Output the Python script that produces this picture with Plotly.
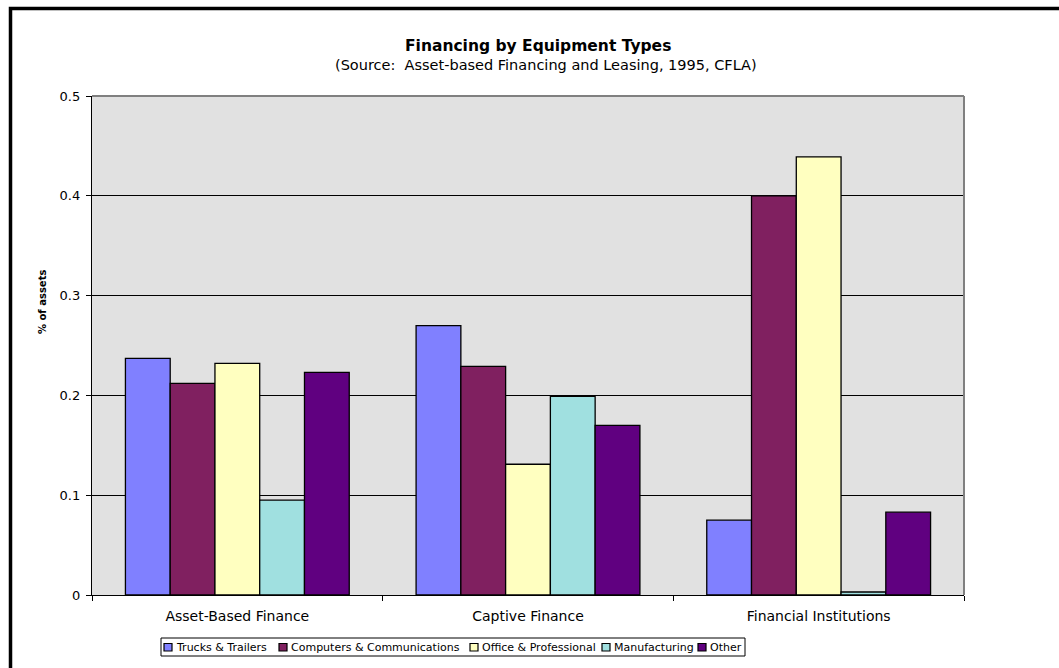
import plotly.graph_objects as go

# Data: share of assets by equipment type for each lender group
categories = ["Asset-Based Finance", "Captive Finance", "Financial Institutions"]
series_names = ["Trucks & Trailers", "Computers & Communications", "Office & Professional",
                "Manufacturing", "Other"]
trucks = [0.237, 0.270, 0.075]
computers = [0.212, 0.229, 0.400]
office = [0.232, 0.131, 0.439]
manufacturing = [0.095, 0.199, 0.003]
other = [0.223, 0.170, 0.083]
y_ticks = [0, 0.1, 0.2, 0.3, 0.4, 0.5]

series_values = [trucks, computers, office, manufacturing, other]
colors = ["#8080FF", "#802060", "#FFFFC0", "#A0E0E0", "#600080"]

W, H = 1059, 668
ML, MR, MT, MB = 92, 95, 96, 73
PW, PH = W - ML - MR, H - MT - MB
FONT = "DejaVu Sans, Verdana, sans-serif"


def px_x(p):
    return (p - ML) / PW


def px_y(p):
    return (H - MB - p) / PH


fig = go.Figure()
for name, vals, col in zip(series_names, series_values, colors):
    fig.add_trace(go.Bar(
        x=categories, y=vals, name=name, showlegend=False,
        marker=dict(color=col, line=dict(color="black", width=1.3)),
    ))

shapes = [
    # outer chart frame
    dict(type="rect", xref="paper", yref="paper",
         x0=px_x(10.5), x1=px_x(W + 20), y0=px_y(8.5), y1=px_y(H + 20),
         line=dict(color="black", width=3.5), layer="above"),
    # plot area top/right edges
    dict(type="line", xref="paper", yref="paper", x0=0, x1=1, y0=1, y1=1,
         line=dict(color="#808080", width=2)),
    dict(type="line", xref="paper", yref="paper", x0=1, x1=1, y0=0, y1=1,
         line=dict(color="#808080", width=2)),
    # legend box
    dict(type="rect", xref="paper", yref="paper",
         x0=px_x(161), x1=px_x(745), y0=px_y(638), y1=px_y(656),
         line=dict(color="black", width=1), fillcolor="white"),
]

annotations = [
    dict(text="<b>Financing by Equipment Types</b>", xref="paper", yref="paper",
         x=px_x(538), y=px_y(46), xanchor="center", yanchor="middle", showarrow=False,
         font=dict(size=15.5, family=FONT)),
    dict(text="(Source:  Asset-based Financing and Leasing, 1995, CFLA)", xref="paper",
         yref="paper", x=px_x(546), y=px_y(65), xanchor="center", yanchor="middle",
         showarrow=False, font=dict(size=14.5, family=FONT)),
    # y axis title
    dict(text="<b>% of assets</b>", xref="paper", yref="paper",
         x=px_x(42), y=px_y(302), xanchor="center", yanchor="middle",
         textangle=-90, showarrow=False, font=dict(size=10, family=FONT)),
]

# compact legend: swatch + label per series
legend_x = [164, 279, 470, 602, 698]
for name, col, lx in zip(series_names, colors, legend_x):
    shapes.append(dict(type="rect", xref="paper", yref="paper",
                       x0=px_x(lx), x1=px_x(lx + 8), y0=px_y(643.5), y1=px_y(651),
                       line=dict(color="black", width=1.2), fillcolor=col))
    annotations.append(dict(text=name, xref="paper", yref="paper",
                            x=px_x(lx + 10), y=px_y(647.5), xanchor="left",
                            yanchor="middle", showarrow=False,
                            font=dict(size=11, family=FONT)))

fig.update_layout(
    width=W, height=H,
    margin=dict(l=ML, r=MR, t=MT, b=MB, autoexpand=False),
    paper_bgcolor="white",
    plot_bgcolor="#E1E1E1",
    barmode="group",
    bargap=0.23,
    bargroupgap=0,
    font=dict(family=FONT, size=12, color="black"),
    showlegend=False,
    shapes=shapes,
    annotations=annotations,
    xaxis=dict(
        showline=True, linecolor="black", linewidth=1.3,
        ticks="outside", ticklen=5, tickcolor="black", tickson="boundaries",
        showgrid=False, tickfont=dict(size=14), fixedrange=True,
        ticklabelstandoff=8,
    ),
    yaxis=dict(
        range=[0, 0.5], tickvals=y_ticks, ticktext=[f"{v:g}" for v in y_ticks],
        showline=True, linecolor="black", linewidth=1.3,
        ticks="outside", ticklen=5, tickcolor="black",
        showgrid=True, gridcolor="black", gridwidth=1, zeroline=False,
        tickfont=dict(size=13), ticklabelstandoff=3,
    ),
)

fig.write_html("out.html")
